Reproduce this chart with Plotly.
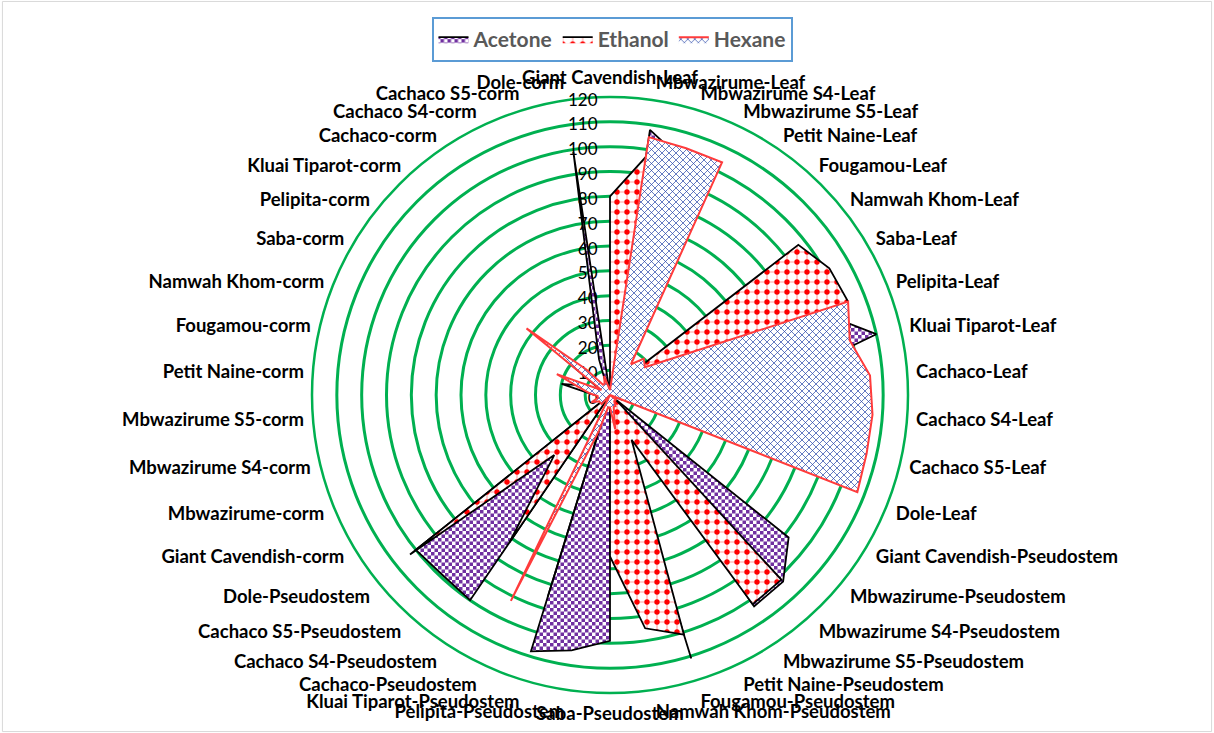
import plotly.graph_objects as go

categories = [
    "Giant Cavendish-Leaf", "Mbwazirume-Leaf", "Mbwazirume S4-Leaf", "Mbwazirume S5-Leaf",
    "Petit Naine-Leaf", "Fougamou-Leaf", "Namwah Khom-Leaf", "Saba-Leaf", "Pelipita-Leaf",
    "Kluai Tiparot-Leaf", "Cachaco-Leaf", "Cachaco S4-Leaf", "Cachaco S5-Leaf", "Dole-Leaf",
    "Giant Cavendish-Pseudostem", "Mbwazirume-Pseudostem", "Mbwazirume S4-Pseudostem",
    "Mbwazirume S5-Pseudostem", "Petit Naine-Pseudostem", "Fougamou-Pseudostem",
    "Namwah Khom-Pseudostem", "Saba-Pseudostem", "Pelipita-Pseudostem", "Kluai Tiparot-Pseudostem",
    "Cachaco-Pseudostem", "Cachaco S4-Pseudostem", "Cachaco S5-Pseudostem", "Dole-Pseudostem",
    "Giant Cavendish-corm", "Mbwazirume-corm", "Mbwazirume S4-corm", "Mbwazirume S5-corm",
    "Petit Naine-corm", "Fougamou-corm", "Namwah Khom-corm", "Saba-corm", "Pelipita-corm",
    "Kluai Tiparot-corm", "Cachaco-corm", "Cachaco S4-corm", "Cachaco S5-corm", "Dole-corm",
]

acetone = [0, 108, 99, 5, 3, 3, 5, 10, 91, 110, 67, 5, 5, 3,
           0, 92, 102.5, 103, 0, 111, 0, 99, 104, 108, 0, 100, 99, 100,
           0, 3, 2, 2, 3, 5, 3, 2, 5, 3, 2, 2, 15, 99]

ethanol = [80, 97, 90, 50, 5, 10, 97, 102, 103, 95, 20, 5, 5, 5,
           0, 3, 101.5, 102, 20, 101, 95, 65, 0, 85, 0, 72, 33, 103,
           0, 3, 3, 5, 8, 20, 10, 5, 27, 5, 3, 2, 2, 0]

hexane = [2, 105, 104, 104, 15, 20, 18, 30, 103, 99, 105, 106, 106, 107,
          0, 3, 3, 3, 5, 5, 14, 5, 5, 15, 92, 0, 5, 5,
          5, 8, 5, 5, 8, 12, 23, 4, 43, 14, 5, 5, 8, 3]

series_names = ["Acetone", "Ethanol", "Hexane"]
radial_range = [0, 120]
radial_step = 10


def closed(values):
    return list(values) + [values[0]]


styles = {
    "Acetone": dict(line=dict(color="#000000", width=1.8), fillcolor="rgb(165,120,200)"),
    "Ethanol": dict(line=dict(color="#000000", width=1.8), fillcolor="rgb(255,125,125)"),
    "Hexane": dict(line=dict(color="#FF3B3B", width=2), fillcolor="rgb(205,212,232)"),
}

fig = go.Figure()
for name, vals in zip(series_names, [acetone, ethanol, hexane]):
    fig.add_trace(go.Scatterpolar(
        r=closed(vals), theta=closed(categories), name=name,
        mode="lines", fill="toself",
        fillcolor=styles[name]["fillcolor"], line=styles[name]["line"],
        hoverinfo="name+theta+r",
    ))

W, H = 1214, 733
cx, cy, R = 610, 395, 298

fig.update_layout(
    width=W, height=H,
    margin=dict(l=0, r=0, t=0, b=0, autoexpand=False),
    paper_bgcolor="white",
    plot_bgcolor="white",
    font=dict(family="Lato", color="#000000"),
    polar=dict(
        domain=dict(x=[(cx - R) / W, (cx + R) / W], y=[1 - (cy + R) / H, 1 - (cy - R) / H]),
        bgcolor="white",
        radialaxis=dict(
            range=radial_range, dtick=radial_step, tick0=0,
            showgrid=True, gridcolor="#00B050", gridwidth=2.5,
            showline=False, ticks="", angle=90, side="counterclockwise",
            tickfont=dict(family="Lato", size=17, color="#000000"),
            layer="below traces",
        ),
        angularaxis=dict(
            type="category", categoryorder="array", categoryarray=categories,
            direction="clockwise", rotation=90,
            showgrid=False, showline=True, linecolor="#00B050", linewidth=2.5,
            ticks="outside", ticklen=4, tickcolor="rgba(0,0,0,0)",
            tickfont=dict(family="Lato", size=18.5, color="#000000", weight="bold"),
            layer="below traces",
        ),
    ),
    legend=dict(
        orientation="h", x=612 / W, xanchor="center", y=1 - 17 / H, yanchor="top",
        bordercolor="#5B9BD5", borderwidth=2, bgcolor="white",
        font=dict(family="Lato", size=21, color="#595959", weight="bold"),
        itemwidth=30, traceorder="normal",
    ),
    shapes=[dict(type="rect", xref="paper", yref="paper", x0=0.002, x1=0.998, y0=0.002, y1=0.998,
                 line=dict(color="#D9D9D9", width=1), fillcolor="rgba(0,0,0,0)", layer="below")],
)

post_script = """
(function(){
var gd = document.getElementById('{plot_id}');
if(!document.getElementById('patAce')){
 var s = '<svg width="0" height="0" style="position:absolute;left:0;top:0" aria-hidden="true"><defs>'
 + '<pattern id="patAce" patternUnits="userSpaceOnUse" width="7" height="7"><rect width="7" height="7" fill="#ffffff"/><rect width="3.5" height="3.5" fill="#7030A0"/><rect x="3.5" y="3.5" width="3.5" height="3.5" fill="#7030A0"/></pattern>'
 + '<pattern id="patEth" patternUnits="userSpaceOnUse" width="10" height="10"><rect width="10" height="10" fill="#ffffff"/><rect x="4.5" y="0" width="1" height="10" fill="#ff0000" opacity="0.4"/><rect x="0" y="4.5" width="10" height="1" fill="#ff0000" opacity="0.4"/><circle cx="5" cy="5" r="2.7" fill="#ff0000"/></pattern>'
 + '<pattern id="patHex" patternUnits="userSpaceOnUse" width="7" height="7"><rect width="7" height="7" fill="#ffffff"/><path d="M0,0 L7,7 M7,0 L0,7" stroke="#2443A8" stroke-width="0.7"/></pattern>'
 + '</defs></svg>';
 document.body.insertAdjacentHTML('afterbegin', s);
}
var pats = ['url(#patAce)','url(#patEth)','url(#patHex)'];
function apply(){
  var tr = gd.querySelectorAll('.scatterlayer .trace');
  tr.forEach(function(t,i){ var f=t.querySelector('path.js-fill'); if(f && pats[i]) f.style.fill = pats[i]; });
  var lg = gd.querySelectorAll('.legend .traces');
  lg.forEach(function(t,i){ var f=t.querySelector('.legendfill path'); if(f && pats[i]) f.style.fill = pats[i]; });
}
apply(); setTimeout(apply,50); setTimeout(apply,300); setTimeout(apply,1000);
if(gd.on) gd.on('plotly_afterplot', apply);
})();
"""

fig.write_html("out.html", post_script=post_script)
